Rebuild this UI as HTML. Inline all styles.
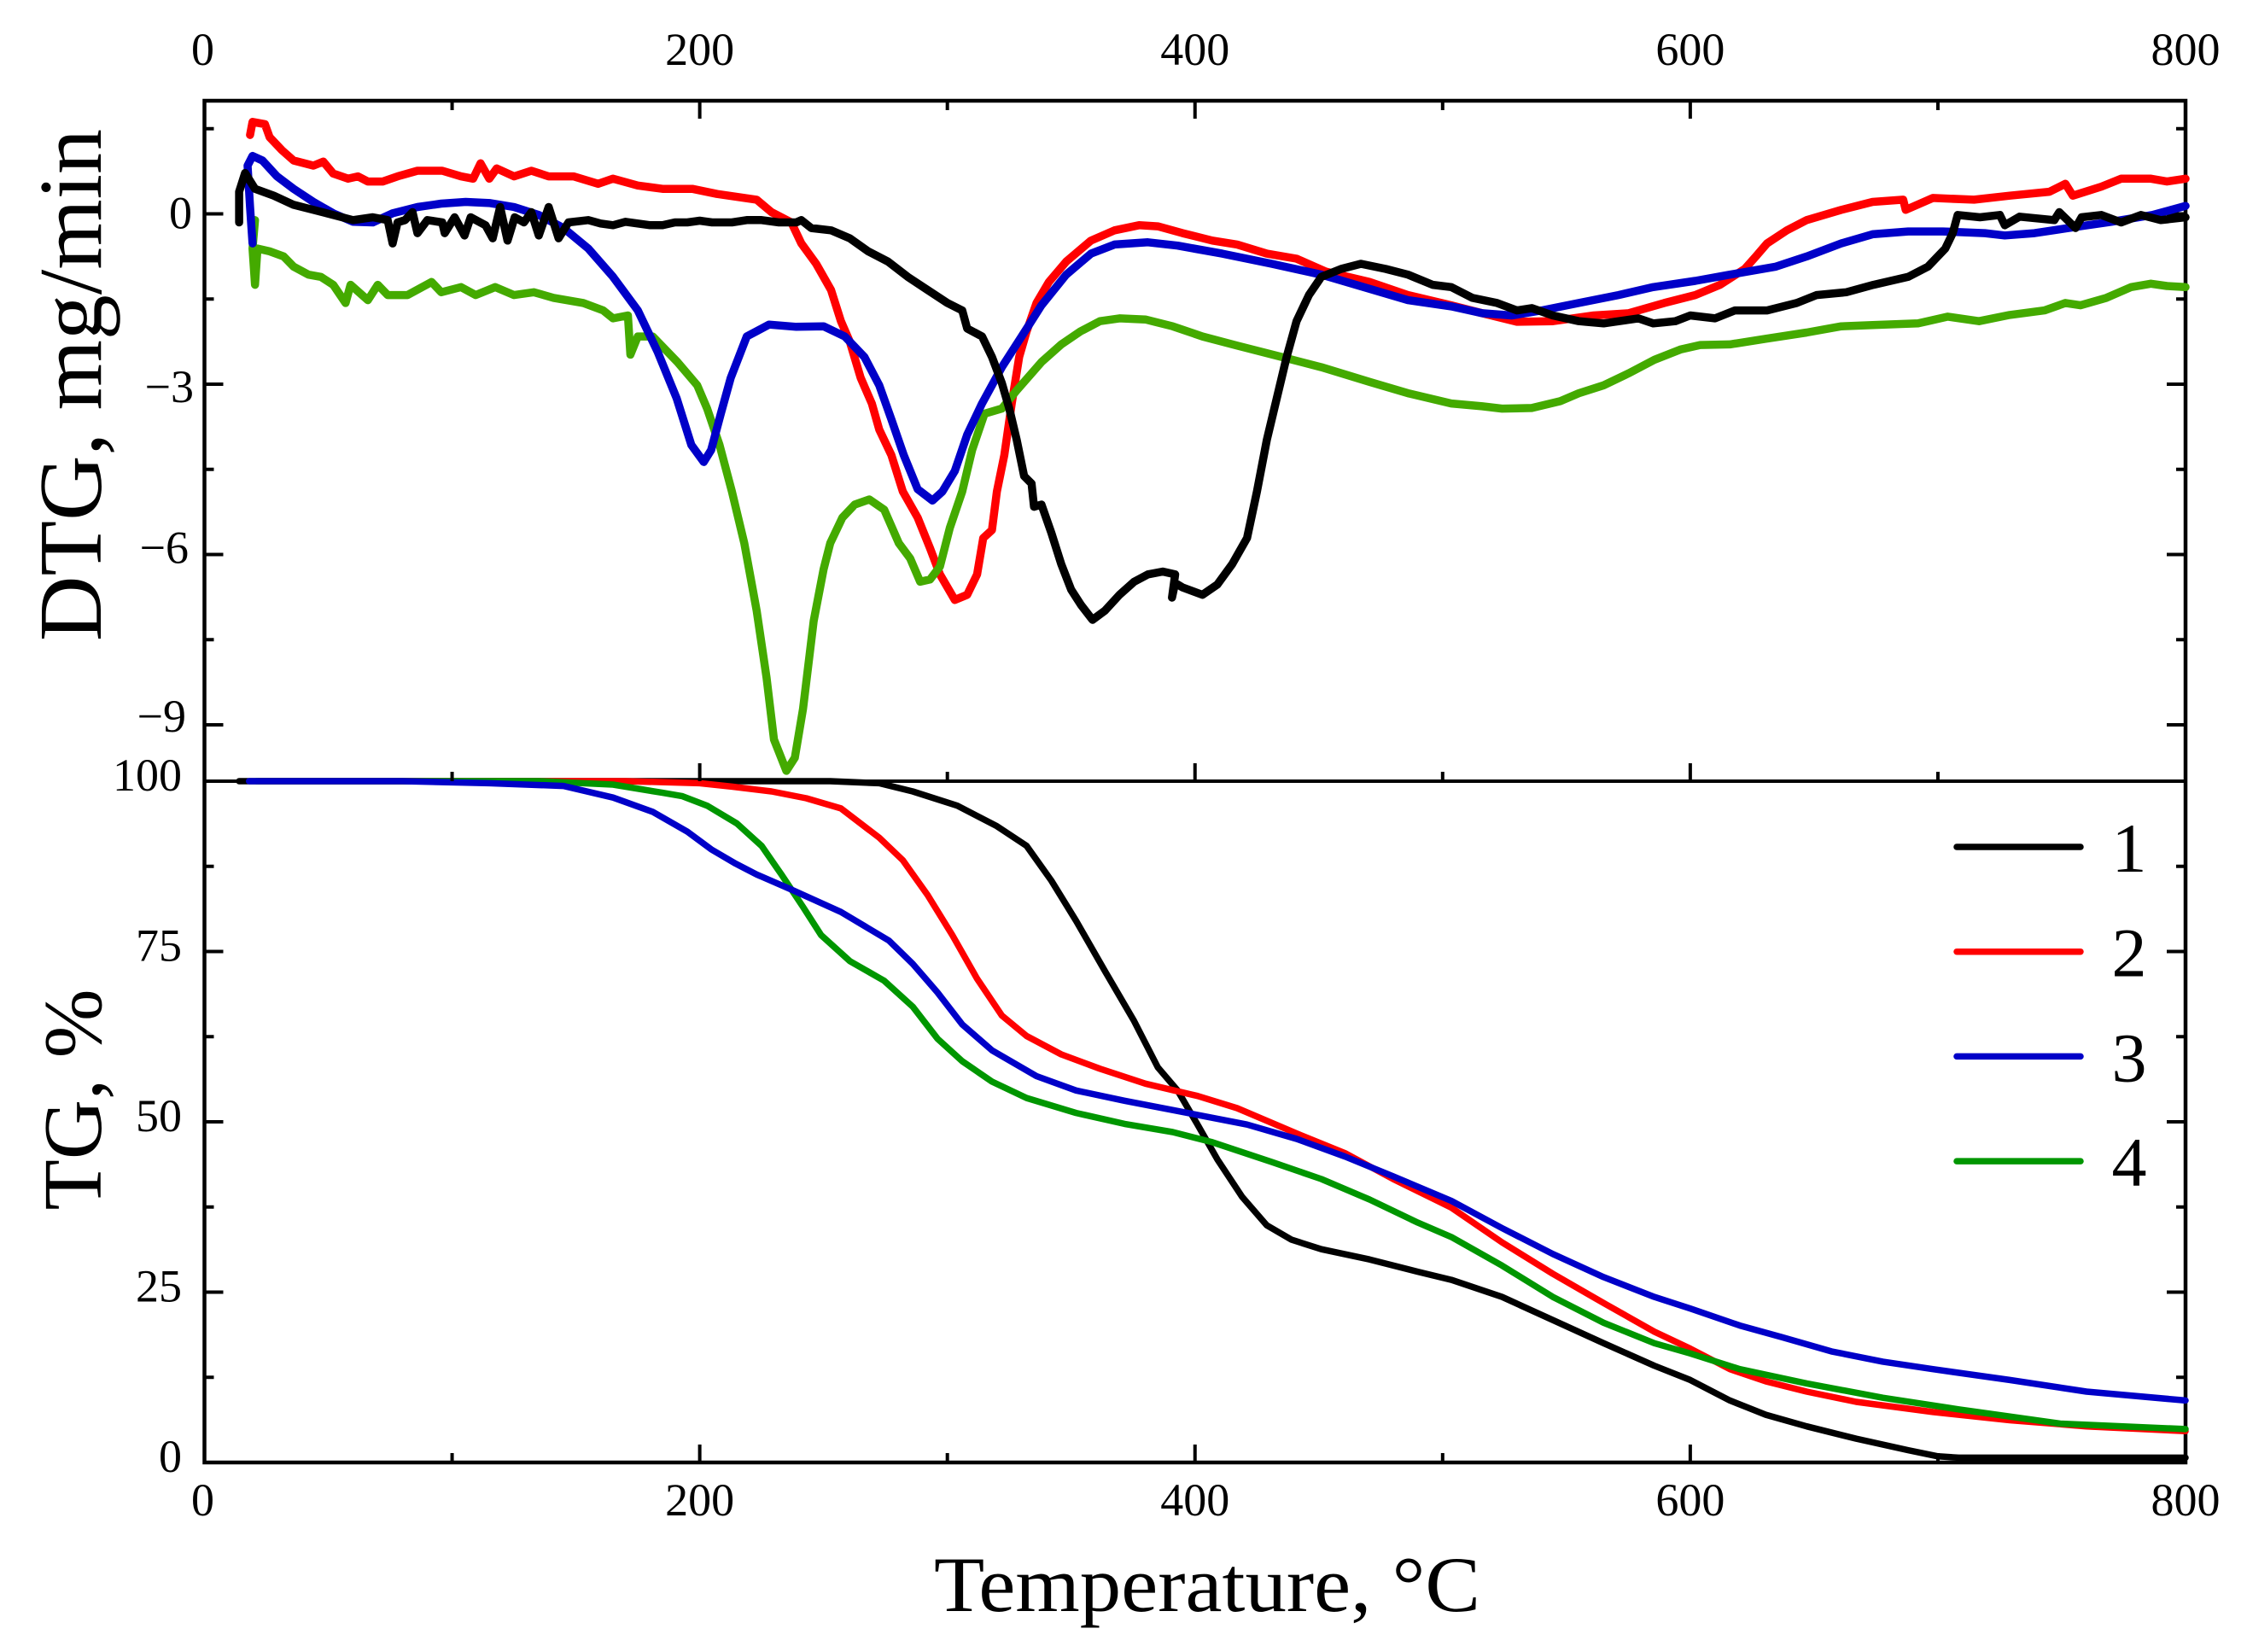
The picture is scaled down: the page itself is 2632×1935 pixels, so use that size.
<!DOCTYPE html>
<html lang="en">
<head>
<meta charset="utf-8">
<title>DTG and TG curves</title>
<style>
html,body{margin:0;padding:0;background:#fff;}
svg{display:block;}
text{font-family:"Liberation Serif",serif;fill:#000;}
</style>
</head>
<body>
<svg id="chart" xmlns="http://www.w3.org/2000/svg" width="2632" height="1935" viewBox="0 0 2632 1935"></svg>
<script>
// ---------- chart data ----------
const xMajorTicks = [0, 200, 400, 600, 800];
const xMinorTicks = [100, 300, 500, 700];
const dtgMajorTicks = [0, -3, -6, -9];
const dtgMinorTicks = [1.5, -1.5, -4.5, -7.5];
const tgMajorTicks = [100, 75, 50, 25, 0];
const tgMinorTicks = [87.5, 62.5, 37.5, 12.5];
const legendLabels = ['1', '2', '3', '4'];

const dtg1T = [14,14,16.4,20.4,28,36,44,52,60,68,74,76,78,81,84,86,90,96,97,101,105,107.5,113.5,116.4,119.4,122.4,125.3,129,132,135,139,143,147,155,160,165,170,175,180,185,190,195,200,205,213,219,225,232,239,241,245,253,260.6,268,276,284,292,300,306,308,314,318,322,325,328,331,334,335,338,342,346,350,354,358.6,363.6,369.5,375.4,381,387,392,390.7,392,395,403,409,415,421,425,429,433,437,441,446,451,459,467,477,486,496,503.5,512,522,530,536,544.5,555,565,579,585,594,600,610,618,631,643,651,663,674,688,696,703,706,708,717,725,727,733,747,749,755.6,758,766,774,782,790,800];
const dtg1V = [-0.15,0.39,0.72,0.44,0.32,0.16,0.07,-0.02,-0.11,-0.06,-0.11,-0.52,-0.15,-0.11,0.03,-0.34,-0.11,-0.15,-0.34,-0.06,-0.38,-0.06,-0.2,-0.43,0.12,-0.47,-0.06,-0.15,0.03,-0.38,0.12,-0.43,-0.15,-0.11,-0.17,-0.2,-0.14,-0.17,-0.2,-0.2,-0.15,-0.15,-0.12,-0.15,-0.15,-0.11,-0.11,-0.15,-0.15,-0.11,-0.25,-0.29,-0.43,-0.66,-0.84,-1.11,-1.34,-1.57,-1.7,-2.02,-2.16,-2.52,-2.98,-3.43,-3.98,-4.62,-4.75,-5.16,-5.12,-5.62,-6.17,-6.62,-6.89,-7.15,-6.99,-6.71,-6.48,-6.35,-6.3,-6.35,-6.76,-6.5,-6.58,-6.71,-6.53,-6.17,-5.71,-4.89,-3.98,-3.25,-2.52,-1.89,-1.43,-1.11,-0.97,-0.88,-0.97,-1.07,-1.25,-1.29,-1.48,-1.57,-1.7,-1.66,-1.79,-1.89,-1.93,-1.84,-1.93,-1.89,-1.79,-1.84,-1.7,-1.7,-1.57,-1.43,-1.38,-1.25,-1.11,-0.93,-0.61,-0.34,-0.02,-0.06,-0.02,-0.2,-0.05,-0.11,0.03,-0.25,-0.06,-0.02,-0.15,-0.02,-0.11,-0.06];

const dtg2T = [18.4,19.4,24.4,26.3,31.3,36,44,48,52,58,62,66,72,78,86,96,103.6,108.5,111.5,115,118,125,132,139,149,159,165,175,185,197,207,223,229,237,241,247,253,257,260.6,265,269.5,272.5,277.4,282,288,293,297,303,308,312,314.5,318,320,323,326,329,332,336,341,348,358,367.5,377.4,385,395,407,417,429,441,453,470.5,486,503.5,516,530,544.5,561,575,589.5,602,612,622,626.5,631,639,647,661,673.6,686,687,698,714.6,729,745,751.5,754.5,766,774,786,792.5,800];
const dtg2V = [1.39,1.62,1.58,1.35,1.12,0.94,0.85,0.92,0.71,0.62,0.66,0.57,0.57,0.66,0.76,0.76,0.66,0.62,0.89,0.62,0.8,0.66,0.76,0.66,0.66,0.53,0.62,0.5,0.44,0.44,0.35,0.25,0.03,-0.15,-0.52,-0.88,-1.34,-1.89,-2.25,-2.89,-3.34,-3.8,-4.25,-4.89,-5.35,-5.89,-6.35,-6.8,-6.71,-6.35,-5.71,-5.57,-4.89,-4.25,-3.34,-2.52,-2.07,-1.57,-1.2,-0.84,-0.47,-0.29,-0.2,-0.22,-0.34,-0.47,-0.54,-0.7,-0.79,-1.02,-1.2,-1.43,-1.61,-1.75,-1.9,-1.89,-1.79,-1.75,-1.57,-1.43,-1.25,-0.97,-0.75,-0.52,-0.29,-0.11,0.07,0.21,0.25,0.07,0.28,0.25,0.32,0.39,0.53,0.32,0.48,0.62,0.62,0.57,0.62];

const dtg3T = [19.4,18.4,17.4,19.4,23.4,29.3,36,44,52,60,68,76,86,95.6,105.5,115.4,125,135,145,155,165,175,183,190.7,196.6,201.6,204.6,208.5,212.5,219,228,239,250,258.6,266.5,272.5,277.4,282.4,288,294,298,303,308,314,322,330,338,348,358,367.5,381,393,411,431,451,470.5,486,503.5,516,528,540,555,571,585,602,616,634.6,647,661,673.6,688,702,719,727,739,755.6,770,786.6,800];
const dtg3V = [-0.52,0.12,0.85,1.02,0.94,0.66,0.44,0.21,0.01,-0.14,-0.15,0.01,0.12,0.18,0.21,0.19,0.12,-0.02,-0.25,-0.61,-1.11,-1.7,-2.43,-3.25,-4.07,-4.37,-4.16,-3.52,-2.89,-2.16,-1.95,-1.99,-1.98,-2.16,-2.52,-3.02,-3.62,-4.25,-4.85,-5.05,-4.89,-4.53,-3.89,-3.34,-2.7,-2.16,-1.61,-1.07,-0.7,-0.54,-0.5,-0.56,-0.7,-0.88,-1.07,-1.32,-1.52,-1.63,-1.75,-1.79,-1.7,-1.57,-1.43,-1.29,-1.18,-1.07,-0.93,-0.75,-0.52,-0.36,-0.31,-0.31,-0.34,-0.38,-0.34,-0.23,-0.14,-0.02,0.14];

const dtg4T = [20.4,19.4,20.4,21.4,26.3,32,36,42,47,52,57,59,66,70,74,82,91.7,95.6,103.6,109.5,117.4,125,133,141,153,161,165,171,172,175,181,185,191,199,203,208,213,218,223,227,230,235,238.4,241.7,246,250,252.7,257.6,262.6,268.5,274.5,280.4,285,289,293,297,301,306,310,315,322,328,338,346,353.7,361.6,369.5,380,391,403,417,435,451,470.5,486,503.5,516,524,536,547.5,555,565,575,585.5,596,604,616,630.5,647,661,673.6,692,704,716.6,729,743,751.5,757.6,768,778,786,792.5,800];
const dtg4V = [-0.11,-0.61,-1.25,-0.61,-0.66,-0.75,-0.93,-1.07,-1.11,-1.25,-1.57,-1.25,-1.52,-1.25,-1.43,-1.43,-1.2,-1.38,-1.29,-1.43,-1.29,-1.43,-1.38,-1.48,-1.57,-1.7,-1.84,-1.79,-2.48,-2.16,-2.16,-2.34,-2.61,-3.02,-3.43,-4.07,-4.89,-5.8,-6.99,-8.17,-9.26,-9.81,-9.58,-8.72,-7.17,-6.26,-5.8,-5.35,-5.12,-5.03,-5.21,-5.8,-6.07,-6.48,-6.44,-6.21,-5.53,-4.89,-4.16,-3.52,-3.43,-3.11,-2.61,-2.3,-2.07,-1.89,-1.84,-1.86,-1.98,-2.16,-2.32,-2.52,-2.7,-2.96,-3.16,-3.34,-3.39,-3.43,-3.42,-3.3,-3.16,-3.02,-2.81,-2.57,-2.39,-2.31,-2.3,-2.2,-2.09,-1.98,-1.96,-1.93,-1.81,-1.89,-1.78,-1.7,-1.57,-1.61,-1.48,-1.29,-1.23,-1.27,-1.29];

const tg1T = [14,100,220,252.7,272.5,286,304,320,332,342,352,364,375.4,385,393,401,409,419,429,439,451,470.5,490,503.5,524,544.5,565,585.5,600,616,630.5,647,667,688,700,708.4,800];
const tg1V = [100,100,100,100,99.7,98.5,96.4,93.4,90.5,85.4,79.5,71.9,64.8,58,54.6,49.6,44.5,39,34.8,32.7,31.3,29.8,28,26.8,24.3,20.9,17.5,14.2,12.1,9.1,7,5.3,3.5,1.8,0.9,0.7,0.7];

const tg2T = [22,120,170,200,213,229,243,257,272.5,282,292,302,312,322,332,346,361.6,380,401,417,441,460.6,480,503.5,524,544.5,565,585.5,600,616,630.5,647,667,698,729,760,800];
const tg2V = [100,100,100,99.7,99.2,98.5,97.5,96,91.7,88.4,83.3,77.4,71,65.6,62.6,59.9,57.8,55.6,53.8,52,48.3,45.4,41.6,37.4,32.3,27.7,23.4,19.2,16.7,13.7,11.9,10.4,8.9,7.4,6.2,5.3,4.6];

const tg3T = [18,80,115,145,165,181,195,204.6,214.5,223,237,257,276.4,286,296,306,318,336,352,371.5,397,421,441,460.6,480,503.5,524,544.5,565,585.5,600,620,637,657,677.7,698,729,760,800];
const tg3V = [100,100,99.7,99.3,97.6,95.5,92.6,90,87.9,86.3,84.1,80.8,76.6,73.2,69,64.3,60.5,56.7,54.6,53.1,51.3,49.6,47.5,44.9,42,38.4,34.4,30.6,27.2,24.3,22.6,20.1,18.4,16.3,14.8,13.7,12.1,10.4,9.1];

const tg4T = [21,135,165,185,193,203,215,225,233,241.6,249,260.6,274.5,286,296,306,318,332,352,371.5,391,407,431,451,470.5,490,503.5,524,544.5,565,585.5,600,620,647,677.7,708.4,749.4,800];
const tg4V = [100,100,99.5,98.3,97.8,96.4,93.8,90.5,86.3,81.6,77.4,73.6,70.7,66.9,62.2,58.9,55.9,53.5,51.3,49.7,48.5,47,44.1,41.6,38.6,35.2,33.1,28.9,24.3,20.5,17.5,16,13.7,11.6,9.5,7.8,5.7,4.9];

// ---------- axis functions ----------
function xPos(t) { return 239.5 + (t - 0) * (2560 - 239.5) / 800; }
function yDtg(v) { return 250.5 - v * 66.5; }
function yTg(v) { return 1713 - v * (1713 - 915) / 100; }

const svg = document.getElementById('chart');
const NS = 'http://www.w3.org/2000/svg';

function line(parent, x1, y1, x2, y2, w, color) {
  const el = document.createElementNS(NS, 'line');
  el.setAttribute('x1', x1);
  el.setAttribute('y1', y1);
  el.setAttribute('x2', x2);
  el.setAttribute('y2', y2);
  el.setAttribute('stroke', color || '#000');
  el.setAttribute('stroke-width', w);
  parent.appendChild(el);
  return el;
}
function label(parent, str, x, y, size, anchor) {
  const el = document.createElementNS(NS, 'text');
  el.setAttribute('x', x);
  el.setAttribute('y', y);
  el.setAttribute('font-size', size);
  el.setAttribute('text-anchor', anchor);
  el.textContent = str;
  parent.appendChild(el);
  return el;
}
function curve(parent, ts, vs, yFn, color, w) {
  const el = document.createElementNS(NS, 'polyline');
  el.setAttribute('points', ts.map((t, i) => xPos(t).toFixed(1) + ',' + yFn(vs[i]).toFixed(1)).join(' '));
  el.setAttribute('fill', 'none');
  el.setAttribute('stroke', color);
  el.setAttribute('stroke-width', w);
  el.setAttribute('stroke-linejoin', 'round');
  el.setAttribute('stroke-linecap', 'round');
  parent.appendChild(el);
  return el;
}

const XL = xPos(0), XR = xPos(800), YT = 118, YM = yTg(100), YB = yTg(0);

// ---------- frame ----------
const frame = document.createElementNS(NS, 'g');


svg.appendChild(frame);
const frameOuter = document.createElementNS(NS, 'rect');
frameOuter.setAttribute('x', XL);
frameOuter.setAttribute('y', YT);
frameOuter.setAttribute('width', XR - XL);
frameOuter.setAttribute('height', YB - YT);
frameOuter.setAttribute('fill', 'none');
frameOuter.setAttribute('stroke', '#000');
frameOuter.setAttribute('stroke-width', 4.5);


frame.appendChild(frameOuter);
const divider = line(frame, XL, YM, XR, YM, 4);



// ---------- TG series ----------
const tgGroup = document.createElementNS(NS, 'g');


svg.appendChild(tgGroup);
const tgCurve1 = curve(tgGroup, tg1T, tg1V, yTg, '#000000', 7.5);


const tgCurve2 = curve(tgGroup, tg2T, tg2V, yTg, '#ff0000', 7.5);


const tgCurve4 = curve(tgGroup, tg4T, tg4V, yTg, '#009600', 7.5);


const tgCurve3 = curve(tgGroup, tg3T, tg3V, yTg, '#0000c8', 7.5);



// ---------- ticks ----------
const ticks = document.createElementNS(NS, 'g');


svg.appendChild(ticks);
const MAJOR = 21, MINOR = 11, TW = 4;
xMajorTicks.slice(1, 4).forEach(t => {
  line(ticks, xPos(t), YT, xPos(t), YT + MAJOR, TW);
  line(ticks, xPos(t), YM, xPos(t), YM - MAJOR, TW);
  line(ticks, xPos(t), YB, xPos(t), YB - MAJOR, TW);
});
xMinorTicks.forEach(t => {
  line(ticks, xPos(t), YT, xPos(t), YT + MINOR, TW);
  line(ticks, xPos(t), YM, xPos(t), YM - MINOR, TW);
  line(ticks, xPos(t), YB, xPos(t), YB - MINOR, TW);
});
dtgMajorTicks.forEach(v => {
  line(ticks, XL, yDtg(v), XL + MAJOR + 1, yDtg(v), TW);
  line(ticks, XR, yDtg(v), XR - MAJOR - 1, yDtg(v), TW);
});
dtgMinorTicks.forEach(v => {
  line(ticks, XL, yDtg(v), XL + MINOR, yDtg(v), TW);
  line(ticks, XR, yDtg(v), XR - MINOR, yDtg(v), TW);
});
tgMajorTicks.slice(1, 4).forEach(v => {
  line(ticks, XL, yTg(v), XL + MAJOR + 1, yTg(v), TW);
  line(ticks, XR, yTg(v), XR - MAJOR - 1, yTg(v), TW);
});
tgMinorTicks.forEach(v => {
  line(ticks, XL, yTg(v), XL + MINOR, yTg(v), TW);
  line(ticks, XR, yTg(v), XR - MINOR, yTg(v), TW);
});

// ---------- DTG series ----------
const dtgGroup = document.createElementNS(NS, 'g');


svg.appendChild(dtgGroup);
const dtgCurve2 = curve(dtgGroup, dtg2T, dtg2V, yDtg, '#ff0000', 9.5);


const dtgCurve4 = curve(dtgGroup, dtg4T, dtg4V, yDtg, '#44aa00', 9.5);


const dtgCurve3 = curve(dtgGroup, dtg3T, dtg3V, yDtg, '#0000c8', 9.5);


const dtgCurve1 = curve(dtgGroup, dtg1T, dtg1V, yDtg, '#000000', 9.5);



// ---------- tick labels ----------
const labels = document.createElementNS(NS, 'g');


svg.appendChild(labels);
const TICK_FONT = 54;
xMajorTicks.forEach(t => {
  const top = label(labels, String(t), xPos(t) - (t === 0 ? 2 : 0), 76, TICK_FONT, 'middle');
  
  
  const bottom = label(labels, String(t), xPos(t) - (t === 0 ? 2 : 0), 1775, TICK_FONT, 'middle');
  
  
});
const dtgNudgeX = { '0': 3, '-3': 5, '-6': -1, '-9': -4 };
const dtgNudgeY = { '0': 17, '-3': 21, '-6': 10, '-9': 8 };
dtgMajorTicks.forEach(v => {
  const text = v < 0 ? '\u2212' + Math.abs(v) : String(v);
  const el = label(labels, text, 222 + dtgNudgeX[v], yDtg(v) + dtgNudgeY[v], TICK_FONT, 'end');
  
  
});
tgMajorTicks.forEach(v => {
  const el = label(labels, String(v), 213, yTg(v) + 11, TICK_FONT, 'end');
  
  
});

// ---------- axis titles ----------
const dtgTitle = label(svg, 'DTG, mg/min', 0, 0, 105, 'middle');
dtgTitle.setAttribute('transform', 'translate(118 451) rotate(-90)');
dtgTitle.setAttribute('textLength', 600);
dtgTitle.setAttribute('lengthAdjust', 'spacingAndGlyphs');


const tgTitle = label(svg, 'TG, %', 0, 0, 98, 'middle');
tgTitle.setAttribute('transform', 'translate(118 1288) rotate(-90)');
tgTitle.setAttribute('textLength', 259);
tgTitle.setAttribute('lengthAdjust', 'spacingAndGlyphs');


const xTitle = label(svg, 'Temperature, \u00B0C', 1414, 1887, 92, 'middle');
xTitle.setAttribute('textLength', 640);
xTitle.setAttribute('lengthAdjust', 'spacingAndGlyphs');



// ---------- legend ----------
const legend = document.createElementNS(NS, 'g');


svg.appendChild(legend);
const legendColors = ['#000000', '#ff0000', '#0000c8', '#009600'];
legendLabels.forEach((name, i) => {
  const yy = 992 + i * 122.7;
  const swatch = line(legend, 2292, yy, 2437, yy, 7.5, legendColors[i]);
  swatch.setAttribute('stroke-linecap', 'round');
  
  
  const txt = label(legend, name, 2494, yy + 29, 82, 'middle');
  
  
});
</script>
</body>
</html>
